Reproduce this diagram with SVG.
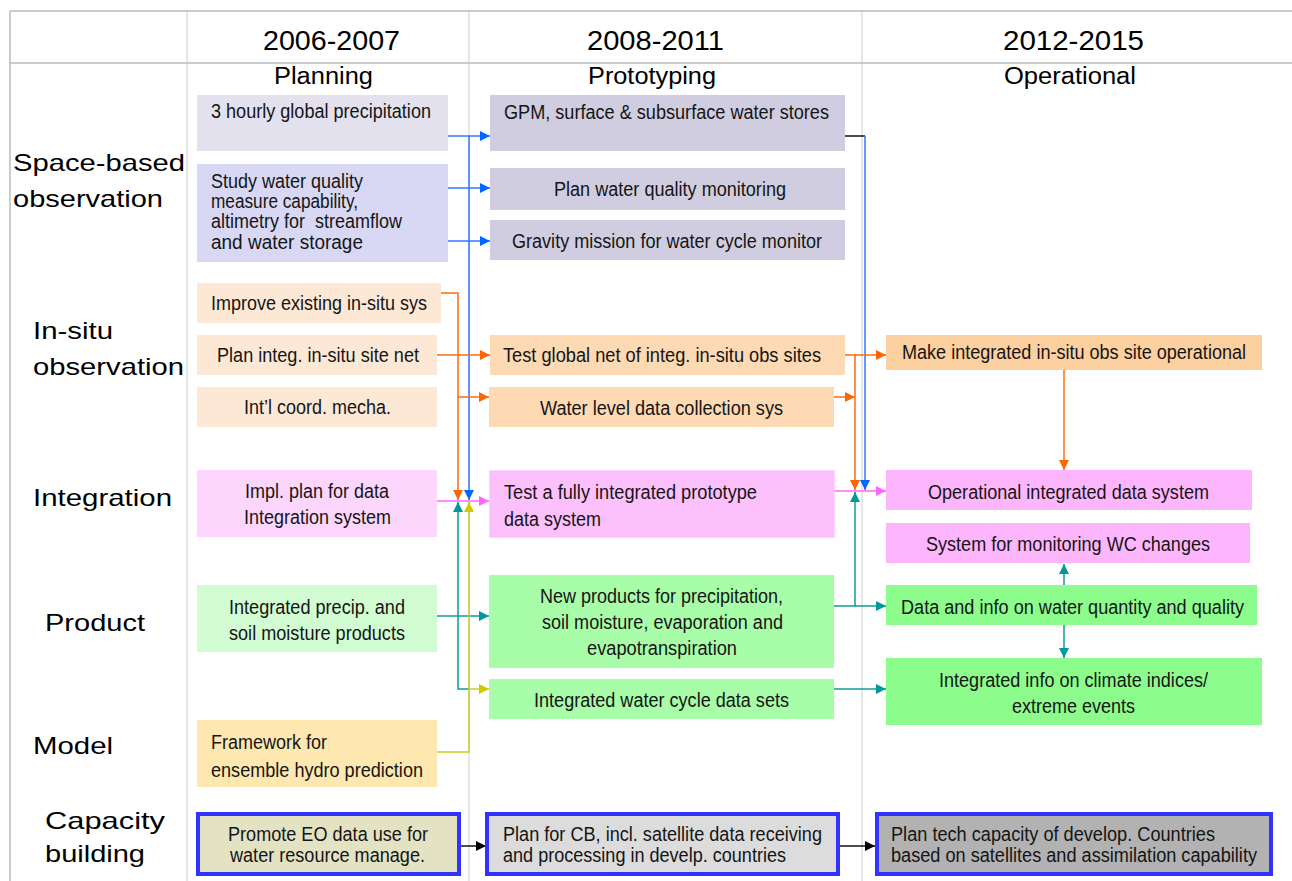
<svg xmlns="http://www.w3.org/2000/svg" width="1292" height="881" viewBox="0 0 1292 881">
<style>
.t{font-family:"Liberation Sans Narrow","Liberation Sans",Arial,sans-serif;font-size:20px;fill:#151515}
.h{font-family:"Liberation Sans",Arial,sans-serif;font-size:28px;fill:#000}
.p{font-family:"Liberation Sans",Arial,sans-serif;font-size:23px;fill:#000}
.r{font-family:"Liberation Sans",Arial,sans-serif;font-size:24px;fill:#000}
.g{stroke:#e0e0e0;stroke-width:1.5;fill:none}
.gd{stroke:#bcbcbc;stroke-width:1.5;fill:none}
.c{fill:none;stroke-width:1.5}
.cb{stroke:#3377ff}.co{stroke:#ff6a10}.cp{stroke:#ff66ff}.ct{stroke:#119999}.cy{stroke:#cccc22}.ck{stroke:#111}
.cap{stroke:#3333ff;stroke-width:4}
</style>
<defs>
<marker id="mb" markerUnits="userSpaceOnUse" markerWidth="11" markerHeight="11" refX="10" refY="5" orient="auto"><path d="M0,0 L10,5 L0,10 z" fill="#0066ff"/></marker>
<marker id="mo" markerUnits="userSpaceOnUse" markerWidth="11" markerHeight="11" refX="10" refY="5" orient="auto"><path d="M0,0 L10,5 L0,10 z" fill="#ff6600"/></marker>
<marker id="mp" markerUnits="userSpaceOnUse" markerWidth="11" markerHeight="11" refX="10" refY="5" orient="auto"><path d="M0,0 L10,5 L0,10 z" fill="#ff66ff"/></marker>
<marker id="mt" markerUnits="userSpaceOnUse" markerWidth="11" markerHeight="11" refX="10" refY="5" orient="auto"><path d="M0,0 L10,5 L0,10 z" fill="#009999"/></marker>
<marker id="my" markerUnits="userSpaceOnUse" markerWidth="11" markerHeight="11" refX="10" refY="5" orient="auto"><path d="M0,0 L10,5 L0,10 z" fill="#cccc00"/></marker>
<marker id="mk" markerUnits="userSpaceOnUse" markerWidth="11" markerHeight="11" refX="10" refY="5" orient="auto"><path d="M0,0 L10,5 L0,10 z" fill="#000"/></marker>
</defs>
<rect width="1292" height="881" fill="#fff"/>
<g id="grid">
<path class="g" d="M187,11 V881 M469,11 V881 M862,11 V881"/>
<path class="gd" d="M10,11 H1292 M10,63 H1292 M10,11 V881"/>
</g>
<g id="headers">
<text class="h" x="263" y="50" textLength="137" lengthAdjust="spacingAndGlyphs">2006-2007</text>
<text class="h" x="587" y="50" textLength="137" lengthAdjust="spacingAndGlyphs">2008-2011</text>
<text class="h" x="1003" y="50" textLength="141" lengthAdjust="spacingAndGlyphs">2012-2015</text>
<text class="p" x="274" y="84" textLength="99" lengthAdjust="spacingAndGlyphs">Planning</text>
<text class="p" x="588" y="84" textLength="128" lengthAdjust="spacingAndGlyphs">Prototyping</text>
<text class="p" x="1004" y="84" textLength="132" lengthAdjust="spacingAndGlyphs">Operational</text>
</g>
<g id="rowlabels">
<text class="r" x="13" y="171" textLength="172" lengthAdjust="spacingAndGlyphs">Space-based</text>
<text class="r" x="13" y="207" textLength="150" lengthAdjust="spacingAndGlyphs">observation</text>
<text class="r" x="33" y="339" textLength="80" lengthAdjust="spacingAndGlyphs">In-situ</text>
<text class="r" x="33" y="375" textLength="151" lengthAdjust="spacingAndGlyphs">observation</text>
<text class="r" x="33" y="506" textLength="139" lengthAdjust="spacingAndGlyphs">Integration</text>
<text class="r" x="45" y="631" textLength="100" lengthAdjust="spacingAndGlyphs">Product</text>
<text class="r" x="33" y="754" textLength="80" lengthAdjust="spacingAndGlyphs">Model</text>
<text class="r" x="45" y="829" textLength="120" lengthAdjust="spacingAndGlyphs">Capacity</text>
<text class="r" x="45" y="862" textLength="100" lengthAdjust="spacingAndGlyphs">building</text>
</g>
<g id="connectors">
<path class="c cb" d="M448,136 H490" marker-end="url(#mb)"/>
<path class="c cb" d="M448,188 H490" marker-end="url(#mb)"/>
<path class="c cb" d="M448,241 H490" marker-end="url(#mb)"/>
<path class="c cb" d="M469,136 V500" marker-end="url(#mb)"/>
<path class="c ck" d="M845,136 H865"/>
<path class="c cb" d="M865,136 V490" marker-end="url(#mb)"/>
<path class="c co" d="M441,293 H458 V500" marker-end="url(#mo)"/>
<path class="c co" d="M437,355 H490" marker-end="url(#mo)"/>
<path class="c co" d="M458,397 H489" marker-end="url(#mo)"/>
<path class="c co" d="M845,355 H886" marker-end="url(#mo)"/>
<path class="c co" d="M855,355 V490" marker-end="url(#mo)"/>
<path class="c co" d="M834,397 H855" marker-end="url(#mo)"/>
<path class="c co" d="M1064,370 V470" marker-end="url(#mo)"/>
<path class="c cp" d="M437,501 H489" marker-end="url(#mp)"/>
<path class="c cp" d="M835,491 H886" marker-end="url(#mp)"/>
<path class="c ct" d="M437,616 H489" marker-end="url(#mt)"/>
<path class="c ct" d="M469,689 H458 V502" marker-end="url(#mt)"/>
<path class="c cy" d="M437,752 H469 V502" marker-end="url(#my)"/>
<path class="c cy" d="M469,689 H489" marker-end="url(#my)"/>
<path class="c ct" d="M834,606 H886" marker-end="url(#mt)"/>
<path class="c ct" d="M855,606 V492" marker-end="url(#mt)"/>
<path class="c ct" d="M1064,585 V564" marker-end="url(#mt)"/>
<path class="c ct" d="M1064,625 V658" marker-end="url(#mt)"/>
<path class="c ct" d="M834,689 H886" marker-end="url(#mt)"/>
<path class="c ck" d="M461,846 H486" marker-end="url(#mk)"/>
<path class="c ck" d="M840,846 H875" marker-end="url(#mk)"/>
</g>
<g id="n1"><rect x="197" y="95" width="251" height="56" fill="#e3e1ee"/><text class="t" x="211" y="118" textLength="220" lengthAdjust="spacingAndGlyphs">3 hourly global precipitation</text></g>
<g id="n2"><rect x="197" y="164" width="251" height="98" fill="#d8d8f4"/>
<text class="t" x="211" y="188" textLength="152" lengthAdjust="spacingAndGlyphs">Study water quality</text>
<text class="t" x="211" y="208" textLength="147" lengthAdjust="spacingAndGlyphs">measure capability,</text>
<text class="t" x="211" y="228" textLength="191" lengthAdjust="spacingAndGlyphs" xml:space="preserve">altimetry for  streamflow</text>
<text class="t" x="211" y="249" textLength="152" lengthAdjust="spacingAndGlyphs">and water storage</text></g>
<g id="n3"><rect x="197" y="283" width="244" height="40" fill="#fde8d6"/><text class="t" x="211" y="310" textLength="216" lengthAdjust="spacingAndGlyphs">Improve existing in-situ sys</text></g>
<g id="n4"><rect x="197" y="335" width="240" height="40" fill="#fde8d6"/><text class="t" x="217" y="362" textLength="202" lengthAdjust="spacingAndGlyphs">Plan integ. in-situ site net</text></g>
<g id="n5"><rect x="197" y="387" width="240" height="40" fill="#fde8d6"/><text class="t" x="244" y="414" textLength="147" lengthAdjust="spacingAndGlyphs">Int’l coord. mecha.</text></g>
<g id="n6"><rect x="197" y="470" width="240" height="67" fill="#fdd6fd"/>
<text class="t" x="245" y="498" textLength="144" lengthAdjust="spacingAndGlyphs">Impl. plan for data</text>
<text class="t" x="244" y="524" textLength="147" lengthAdjust="spacingAndGlyphs">Integration system</text></g>
<g id="n7"><rect x="197" y="585" width="240" height="67" fill="#d2fdd2"/>
<text class="t" x="229" y="614" textLength="176" lengthAdjust="spacingAndGlyphs">Integrated precip. and</text>
<text class="t" x="229" y="640" textLength="176" lengthAdjust="spacingAndGlyphs">soil moisture products</text></g>
<g id="n8"><rect x="197" y="720" width="240" height="67" fill="#fee8b0"/>
<text class="t" x="211" y="749" textLength="116" lengthAdjust="spacingAndGlyphs">Framework for</text>
<text class="t" x="211" y="777" textLength="212" lengthAdjust="spacingAndGlyphs">ensemble hydro prediction</text></g>
<g id="n9"><rect x="198" y="814" width="261" height="60" fill="#e3e3c4" class="cap"/>
<text class="t" x="228" y="841" textLength="200" lengthAdjust="spacingAndGlyphs">Promote EO data use for</text>
<text class="t" x="230" y="862" textLength="195" lengthAdjust="spacingAndGlyphs">water resource manage.</text></g>
<g id="n10"><rect x="490" y="95" width="355" height="56" fill="#d0cde0"/><text class="t" x="504" y="119" textLength="325" lengthAdjust="spacingAndGlyphs">GPM, surface &amp; subsurface water stores</text></g>
<g id="n11"><rect x="490" y="168" width="355" height="42" fill="#d0cde0"/><text class="t" x="554" y="196" textLength="232" lengthAdjust="spacingAndGlyphs">Plan water quality monitoring</text></g>
<g id="n12"><rect x="490" y="220" width="355" height="40" fill="#d0cde0"/><text class="t" x="512" y="248" textLength="310" lengthAdjust="spacingAndGlyphs">Gravity mission for water cycle monitor</text></g>
<g id="n13"><rect x="490" y="335" width="355" height="40" fill="#fdd9b4"/><text class="t" x="503" y="362" textLength="318" lengthAdjust="spacingAndGlyphs">Test global net of integ. in-situ obs sites</text></g>
<g id="n14"><rect x="489" y="387" width="345" height="40" fill="#fdd9b4"/><text class="t" x="540" y="415" textLength="243" lengthAdjust="spacingAndGlyphs">Water level data collection sys</text></g>
<g id="n15"><rect x="489.5" y="470.5" width="345" height="67" fill="#fcc0fc" stroke="#fcd2fc"/>
<text class="t" x="504" y="499" textLength="253" lengthAdjust="spacingAndGlyphs">Test a fully integrated prototype</text>
<text class="t" x="504" y="526" textLength="97" lengthAdjust="spacingAndGlyphs">data system</text></g>
<g id="n16"><rect x="489" y="575" width="345" height="93" fill="#a8fda8"/>
<text class="t" x="540" y="603" textLength="243" lengthAdjust="spacingAndGlyphs">New products for precipitation,</text>
<text class="t" x="542" y="629" textLength="241" lengthAdjust="spacingAndGlyphs">soil moisture, evaporation and</text>
<text class="t" x="587" y="655" textLength="150" lengthAdjust="spacingAndGlyphs">evapotranspiration</text></g>
<g id="n17"><rect x="489" y="679" width="345" height="40" fill="#a8fda8"/><text class="t" x="534" y="707" textLength="255" lengthAdjust="spacingAndGlyphs">Integrated water cycle data sets</text></g>
<g id="n18"><rect x="487" y="814" width="351" height="60" fill="#dcdcdc" class="cap"/>
<text class="t" x="503" y="841" textLength="319" lengthAdjust="spacingAndGlyphs">Plan for CB, incl. satellite data receiving</text>
<text class="t" x="503" y="862" textLength="283" lengthAdjust="spacingAndGlyphs">and processing in develp. countries</text></g>
<g id="n19"><rect x="886" y="335" width="376" height="35" fill="#fdd0a0"/><text class="t" x="902" y="359" textLength="344" lengthAdjust="spacingAndGlyphs">Make integrated in-situ obs site operational</text></g>
<g id="n20"><rect x="886" y="470" width="366" height="40" fill="#fdb6fd"/><text class="t" x="928" y="499" textLength="281" lengthAdjust="spacingAndGlyphs">Operational integrated data system</text></g>
<g id="n21"><rect x="886" y="523" width="364" height="40" fill="#fdb6fd"/><text class="t" x="926" y="551" textLength="284" lengthAdjust="spacingAndGlyphs">System for monitoring WC changes</text></g>
<g id="n22"><rect x="886" y="585" width="371" height="40" fill="#8cfd8c"/><text class="t" x="901" y="614" textLength="343" lengthAdjust="spacingAndGlyphs">Data and info on water quantity and quality</text></g>
<g id="n23"><rect x="886" y="658" width="376" height="67" fill="#8cfd8c"/>
<text class="t" x="939" y="687" textLength="269" lengthAdjust="spacingAndGlyphs">Integrated info on climate indices/</text>
<text class="t" x="1012" y="713" textLength="123" lengthAdjust="spacingAndGlyphs">extreme events</text></g>
<g id="n24"><rect x="877" y="814" width="394" height="60" fill="#b2b2b2" class="cap"/>
<text class="t" x="891" y="841" textLength="324" lengthAdjust="spacingAndGlyphs">Plan tech capacity of develop. Countries</text>
<text class="t" x="891" y="862" textLength="366" lengthAdjust="spacingAndGlyphs">based on satellites and assimilation capability</text></g>
</svg>
